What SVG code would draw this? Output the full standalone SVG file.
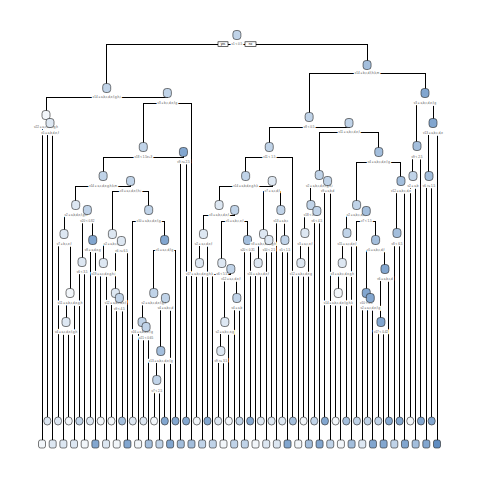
<svg xmlns="http://www.w3.org/2000/svg" width="480" height="480" viewBox="0 0 480 480">
<style>
.e{fill:none;stroke:#000;stroke-width:1;shape-rendering:crispEdges}
.n{stroke:#222;stroke-width:.6}
.c0{fill:#f2f6fa}.c1{fill:#dde7f2}.c2{fill:#c0d3e8}.c3{fill:#a3bedc}.c4{fill:#82a6cf}.c5{fill:#5f8cc0}
.lb{font-family:'Liberation Sans',Arial,sans-serif;font-size:3px;fill:#555;text-anchor:middle;stroke:#fff;stroke-width:2.6;paint-order:stroke;stroke-linejoin:round}
.yn{fill:#fff;stroke:#000;stroke-width:.6}
.ynt{font-family:'Liberation Sans',Arial,sans-serif;font-size:3px;fill:#000;text-anchor:middle}
</style>
<rect width="480" height="480" fill="#fff"/>
<g id="connectors" class="e">
<path d="M106.69 88V44H367.07V65"/>
<path d="M46 115V97H167.38V93"/>
<path d="M42 444V127H50.01V123"/>
<path d="M47.34 421V133H52.68V444"/>
<path d="M143.29 147V103H191.46V444"/>
<path d="M103.12 176V157H183.45V152"/>
<path d="M180.78 444V162H186.12V421"/>
<path d="M75.7 205V186H130.54V181"/>
<path d="M64.02 234V215H87.37V210"/>
<path d="M58.01 421V244H70.03V293"/>
<path d="M66.02 322V303H74.03V444"/>
<path d="M63.35 444V332H68.69V421"/>
<path d="M82.03 262V221H92.71V240"/>
<path d="M79.36 421V272H84.7V444"/>
<path d="M90.04 421V250H95.38V444"/>
<path d="M112.4 234V191H148.68V210"/>
<path d="M103.39 263V244H121.4V241"/>
<path d="M100.72 421V274H106.05V444"/>
<path d="M115.4 293V251H127.41V444"/>
<path d="M111.39 421V303H119.4V298"/>
<path d="M116.73 444V309H122.07V421"/>
<path d="M132.74 421V221H164.61V240"/>
<path d="M153.77 293V250H175.45V421"/>
<path d="M142.09 322V303H165.44V298"/>
<path d="M138.08 444V332H146.09V327"/>
<path d="M143.42 421V338H148.76V444"/>
<path d="M160.77 351V308H170.11V444"/>
<path d="M156.76 380V361H164.77V421"/>
<path d="M154.09 421V391H159.43V444"/>
<path d="M309.13 117V73H425V93"/>
<path d="M269.26 147V127H349V123"/>
<path d="M245.64 176V157H292.88V421"/>
<path d="M219.07 205V186H272.2V181"/>
<path d="M203.47 234V215H234.67V210"/>
<path d="M199.47 263V244H207.47V421"/>
<path d="M196.8 421V274H202.14V444"/>
<path d="M221.82 263V221H247.51V240"/>
<path d="M212.81 444V274H230.83V269"/>
<path d="M224.82 322V279H236.83V298"/>
<path d="M220.82 351V332H228.82V421"/>
<path d="M218.15 421V361H223.49V444"/>
<path d="M234.16 444V308H239.5V421"/>
<path d="M244.84 444V250H250.18V421"/>
<path d="M263.52 234V191H280.87V210"/>
<path d="M258.18 263V244H268.86V240"/>
<path d="M255.51 444V274H260.85V421"/>
<path d="M266.19 444V250H271.53V421"/>
<path d="M276.86 444V221H284.87V240"/>
<path d="M282.2 421V250H287.54V444"/>
<path d="M319.24 175V132H378.79V152"/>
<path d="M310.9 205V186H327.58V181"/>
<path d="M304.89 233V215H316.9V211"/>
<path d="M300.89 263V244H308.89V444"/>
<path d="M298.22 444V274H303.55V421"/>
<path d="M314.23 421V221H319.57V444"/>
<path d="M324.91 421V191H330.24V444"/>
<path d="M356.6 205V162H400.97V181"/>
<path d="M346.93 233V215H366.28V211"/>
<path d="M342.26 263V244H351.59V444"/>
<path d="M338.25 293V274H346.26V421"/>
<path d="M335.58 421V303H340.92V444"/>
<path d="M356.93 421V221H375.62V240"/>
<path d="M366.28 293V250H384.96V269"/>
<path d="M362.27 444V303H370.28V298"/>
<path d="M367.61 421V308H372.95V444"/>
<path d="M380.95 322V279H388.96V421"/>
<path d="M378.28 421V332H383.62V444"/>
<path d="M396.97 233V191H404.97V444"/>
<path d="M394.3 444V244H399.64V421"/>
<path d="M416.99 146V103H433V123"/>
<path d="M412.98 176V157H420.99V421"/>
<path d="M410.31 421V186H415.65V444"/>
<path d="M428.99 176V133H437V444"/>
<path d="M426.32 444V186H431.66V421"/>
</g>
<g id="yesno">
<rect class="yn" x="218" y="41.8" width="10" height="4.6"/><text class="ynt" x="223" y="45.1">yes</text>
<rect class="yn" x="245" y="41.8" width="11" height="4.6"/><text class="ynt" x="250.5" y="45.1">no</text>
</g>
<g id="nodes">
<g id="n_root"><rect class="n c2" x="232.88" y="30.5" width="8" height="9" rx="3"/><text class="lb" x="236.88" y="45.1">v1 &lt; 0.5</text></g>
<g id="n_A"><rect class="n c2" x="102.69" y="83.5" width="8" height="9" rx="3"/><text class="lb" x="106.69" y="98.1">v14 = a,b,c,d,e,f,g,h,i</text></g>
<g id="n_R"><rect class="n c3" x="363.07" y="60.5" width="8" height="9" rx="3"/><text class="lb" x="367.07" y="74.1">v14 = b,c,d,f,h,k,m</text></g>
<g id="n_B"><rect class="n c0" x="42" y="110.5" width="8" height="9" rx="3"/><text class="lb" x="46" y="128.1">v22 = a,c,d,e,f,g,h</text></g>
<g id="n_C"><rect class="n c1" x="46.01" y="118.5" width="8" height="9" rx="3"/><text class="lb" x="50.01" y="134.1">v5 = a,b,d,e,f</text></g>
<g id="n_D"><rect class="n c2" x="163.38" y="88.5" width="8" height="9" rx="3"/><text class="lb" x="167.38" y="104.1">v3 = b,c,d,e,f,g</text></g>
<g id="n_E"><rect class="n c2" x="139.29" y="142.5" width="8" height="9" rx="3"/><text class="lb" x="143.29" y="158.1">v18 &lt; 1.5e+3</text></g>
<g id="n_H"><rect class="n c4" x="179.45" y="147.5" width="8" height="9" rx="3"/><text class="lb" x="183.45" y="163.1">v9 &gt;= 2.5</text></g>
<g id="n_G"><rect class="n c2" x="99.12" y="171.5" width="8" height="9" rx="3"/><text class="lb" x="103.12" y="187.1">v14 = a,c,d,e,g,h,k,m</text></g>
<g id="n_I"><rect class="n c1" x="71.7" y="200.5" width="8" height="9" rx="3"/><text class="lb" x="75.7" y="216.1">v2 = a,b,d,e,f,g,h</text></g>
<g id="n_M"><rect class="n c1" x="60.02" y="229.5" width="8" height="9" rx="3"/><text class="lb" x="64.02" y="245.1">v7 = b,c,e,f</text></g>
<g id="n_M2"><rect class="n c0" x="66.03" y="288.5" width="8" height="9" rx="3"/><text class="lb" x="70.03" y="304.1">v11 = a,b,c,d,e,g,h</text></g>
<g id="n_M1"><rect class="n c1" x="62.02" y="317.5" width="8" height="9" rx="3"/><text class="lb" x="66.02" y="333.1">v4 = a,c,d,e,f,g,h</text></g>
<g id="n_N"><rect class="n c2" x="83.37" y="205.5" width="8" height="9" rx="3"/><text class="lb" x="87.37" y="222.1">v20 &lt; 0.82</text></g>
<g id="n_N1"><rect class="n c1" x="78.03" y="257.5" width="8" height="9" rx="3"/><text class="lb" x="82.03" y="273.1">v6 &lt; 3.5</text></g>
<g id="n_N2"><rect class="n c4" x="88.71" y="235.5" width="8" height="9" rx="3"/><text class="lb" x="92.71" y="251.1">v8 = a,d,e,g</text></g>
<g id="n_J"><rect class="n c2" x="126.54" y="176.5" width="8" height="9" rx="3"/><text class="lb" x="130.54" y="192.1">v3 = a,c,d,e,f,h,i</text></g>
<g id="n_K"><rect class="n c1" x="108.4" y="229.5" width="8" height="9" rx="3"/><text class="lb" x="112.4" y="245.1">v2 = a,b,c,e,f</text></g>
<g id="n_K1"><rect class="n c1" x="99.39" y="258.5" width="8" height="9" rx="3"/><text class="lb" x="103.39" y="275.1">v19 = a,c,d,e,g,h,i</text></g>
<g id="n_K2"><rect class="n c1" x="117.4" y="236.5" width="8" height="9" rx="3"/><text class="lb" x="121.4" y="252.1">v6 &gt;= 6.5</text></g>
<g id="n_K3"><rect class="n c1" x="111.4" y="288.5" width="8" height="9" rx="3"/><text class="lb" x="115.4" y="304.1">v12 = a,b,c,d,e,f</text></g>
<g id="n_K4"><rect class="n c2" x="115.4" y="293.5" width="8" height="9" rx="3"/><text class="lb" x="119.4" y="310.1">v9 &lt; 4.5</text></g>
<g id="n_L"><rect class="n c2" x="144.68" y="205.5" width="8" height="9" rx="3"/><text class="lb" x="148.68" y="222.1">v10 = a,b,c,d,e,f,g</text></g>
<g id="n_LA"><rect class="n c4" x="160.61" y="235.5" width="8" height="9" rx="3"/><text class="lb" x="164.61" y="251.1">v5 = a,c,d,f,g</text></g>
<g id="n_LB"><rect class="n c2" x="149.77" y="288.5" width="8" height="9" rx="3"/><text class="lb" x="153.77" y="304.1">v2 = a,b,c,d,e,f,g,h</text></g>
<g id="n_LC"><rect class="n c2" x="138.09" y="317.5" width="8" height="9" rx="3"/><text class="lb" x="142.09" y="333.1">v16 = a,b,d,e,f,g</text></g>
<g id="n_LE"><rect class="n c2" x="142.09" y="322.5" width="8" height="9" rx="3"/><text class="lb" x="146.09" y="339.1">v21 &lt; 0.65</text></g>
<g id="n_LD"><rect class="n c2" x="161.44" y="293.5" width="8" height="9" rx="3"/><text class="lb" x="165.44" y="309.1">v4 = a,b,c,d</text></g>
<g id="n_LF"><rect class="n c3" x="156.77" y="346.5" width="8" height="9" rx="3"/><text class="lb" x="160.77" y="362.1">v13 = a,b,c,d,e,f,g</text></g>
<g id="n_LG"><rect class="n c2" x="152.76" y="375.5" width="8" height="9" rx="3"/><text class="lb" x="156.76" y="392.1">v7 &lt; 2.5</text></g>
<g id="n_P"><rect class="n c2" x="305.13" y="112.5" width="8" height="9" rx="3"/><text class="lb" x="309.13" y="128.1">v8 &lt; 0.5</text></g>
<g id="n_Q"><rect class="n c2" x="265.26" y="142.5" width="8" height="9" rx="3"/><text class="lb" x="269.26" y="158.1">v11 &lt; 1.5</text></g>
<g id="n_Q17"><rect class="n c2" x="241.64" y="171.5" width="8" height="9" rx="3"/><text class="lb" x="245.64" y="187.1">v14 = a,b,d,e,g,h,k</text></g>
<g id="n_Q10"><rect class="n c1" x="215.07" y="200.5" width="8" height="9" rx="3"/><text class="lb" x="219.07" y="216.1">v3 = a,b,c,d,e,f</text></g>
<g id="n_Q2"><rect class="n c1" x="199.47" y="229.5" width="8" height="9" rx="3"/><text class="lb" x="203.47" y="245.1">v2 = a,c,d,e,f</text></g>
<g id="n_Q1"><rect class="n c1" x="195.47" y="258.5" width="8" height="9" rx="3"/><text class="lb" x="199.47" y="275.1">v17 = a,b,c,d,e,g,h,k</text></g>
<g id="n_Q9"><rect class="n c2" x="230.67" y="205.5" width="8" height="9" rx="3"/><text class="lb" x="234.67" y="222.1">v5 = a,b,c,e,f</text></g>
<g id="n_Q7"><rect class="n c1" x="217.82" y="258.5" width="8" height="9" rx="3"/><text class="lb" x="221.82" y="275.1">v6 &lt; 5.5</text></g>
<g id="n_Q6"><rect class="n c2" x="226.83" y="264.5" width="8" height="9" rx="3"/><text class="lb" x="230.83" y="280.1">v12 = a,c,d,e,f</text></g>
<g id="n_Q4"><rect class="n c1" x="220.82" y="317.5" width="8" height="9" rx="3"/><text class="lb" x="224.82" y="333.1">v2 = a,b,c,e,g</text></g>
<g id="n_Q3"><rect class="n c1" x="216.82" y="346.5" width="8" height="9" rx="3"/><text class="lb" x="220.82" y="362.1">v9 &gt;= 3.5</text></g>
<g id="n_Q5"><rect class="n c2" x="232.83" y="293.5" width="8" height="9" rx="3"/><text class="lb" x="236.83" y="309.1">v4 = a,b</text></g>
<g id="n_Q8"><rect class="n c3" x="243.51" y="235.5" width="8" height="9" rx="3"/><text class="lb" x="247.51" y="251.1">v20 &lt; 0.31</text></g>
<g id="n_Q16"><rect class="n c1" x="268.2" y="176.5" width="8" height="9" rx="3"/><text class="lb" x="272.2" y="192.1">v7 = a,c,d,f</text></g>
<g id="n_Q13"><rect class="n c1" x="259.52" y="229.5" width="8" height="9" rx="3"/><text class="lb" x="263.52" y="245.1">v3 = a,b,c,d,e,f,g,h</text></g>
<g id="n_Q11"><rect class="n c1" x="254.18" y="258.5" width="8" height="9" rx="3"/><text class="lb" x="258.18" y="275.1">v16 = a,b,c,d,e,f</text></g>
<g id="n_Q12"><rect class="n c1" x="264.86" y="235.5" width="8" height="9" rx="3"/><text class="lb" x="268.86" y="251.1">v10 &lt; 2.5</text></g>
<g id="n_Q15"><rect class="n c2" x="276.87" y="205.5" width="8" height="9" rx="3"/><text class="lb" x="280.87" y="222.1">v13 = a,b,c</text></g>
<g id="n_Q14"><rect class="n c2" x="280.87" y="235.5" width="8" height="9" rx="3"/><text class="lb" x="284.87" y="251.1">v5 &lt; 1.5</text></g>
<g id="n_S"><rect class="n c2" x="345" y="118.5" width="8" height="9" rx="3"/><text class="lb" x="349" y="133.1">v11 = a,b,c,d,e,f</text></g>
<g id="n_T"><rect class="n c2" x="315.24" y="170.5" width="8" height="9" rx="3"/><text class="lb" x="319.24" y="187.1">v2 = a,b,c,d,e,f,g,h,i</text></g>
<g id="n_T4"><rect class="n c2" x="306.9" y="200.5" width="8" height="9" rx="3"/><text class="lb" x="310.9" y="216.1">v18 &lt; 0.74</text></g>
<g id="n_T2"><rect class="n c1" x="300.89" y="228.5" width="8" height="9" rx="3"/><text class="lb" x="304.89" y="245.1">v3 = a,c,e,f</text></g>
<g id="n_T1"><rect class="n c1" x="296.89" y="258.5" width="8" height="9" rx="3"/><text class="lb" x="300.89" y="275.1">v12 = a,b,c,d,e,g</text></g>
<g id="n_T3"><rect class="n c2" x="312.9" y="206.5" width="8" height="9" rx="3"/><text class="lb" x="316.9" y="222.1">v6 &lt; 4.5</text></g>
<g id="n_T5"><rect class="n c2" x="323.58" y="176.5" width="8" height="9" rx="3"/><text class="lb" x="327.58" y="192.1">v9 = a,b,d</text></g>
<g id="n_U"><rect class="n c3" x="374.79" y="147.5" width="8" height="9" rx="3"/><text class="lb" x="378.79" y="163.1">v4 = a,b,c,d,e,f,g</text></g>
<g id="n_V"><rect class="n c2" x="352.6" y="200.5" width="8" height="9" rx="3"/><text class="lb" x="356.6" y="216.1">v2 = a,b,c,d,e,f</text></g>
<g id="n_V3"><rect class="n c2" x="342.93" y="228.5" width="8" height="9" rx="3"/><text class="lb" x="346.93" y="245.1">v15 = a,c,d,e,f</text></g>
<g id="n_V2"><rect class="n c1" x="338.26" y="258.5" width="8" height="9" rx="3"/><text class="lb" x="342.26" y="275.1">v3 = a,b,c,d,e,g,h</text></g>
<g id="n_V1"><rect class="n c0" x="334.25" y="288.5" width="8" height="9" rx="3"/><text class="lb" x="338.25" y="304.1">v14 = a,b,c,d,e,f,g,h,k</text></g>
<g id="n_V9"><rect class="n c3" x="362.28" y="206.5" width="8" height="9" rx="3"/><text class="lb" x="366.28" y="222.1">v7 &lt; 1.5</text></g>
<g id="n_V8"><rect class="n c3" x="371.62" y="235.5" width="8" height="9" rx="3"/><text class="lb" x="375.62" y="251.1">v5 = a,b,c,d,f</text></g>
<g id="n_V5"><rect class="n c4" x="362.28" y="288.5" width="8" height="9" rx="3"/><text class="lb" x="366.28" y="304.1">v10 &lt; 3.5</text></g>
<g id="n_V4"><rect class="n c4" x="366.28" y="293.5" width="8" height="9" rx="3"/><text class="lb" x="370.28" y="309.1">v2 = a,c,d,e,f,g</text></g>
<g id="n_V7"><rect class="n c4" x="380.96" y="264.5" width="8" height="9" rx="3"/><text class="lb" x="384.96" y="280.1">v6 = a,b,c,d</text></g>
<g id="n_V6"><rect class="n c4" x="376.95" y="317.5" width="8" height="9" rx="3"/><text class="lb" x="380.95" y="333.1">v17 &lt; 0.42</text></g>
<g id="n_W"><rect class="n c3" x="396.97" y="176.5" width="8" height="9" rx="3"/><text class="lb" x="400.97" y="192.1">v12 = a,b,c,d,e</text></g>
<g id="n_W1"><rect class="n c3" x="392.97" y="228.5" width="8" height="9" rx="3"/><text class="lb" x="396.97" y="245.1">v8 &lt; 6.5</text></g>
<g id="n_X"><rect class="n c4" x="421" y="88.5" width="8" height="9" rx="3"/><text class="lb" x="425" y="104.1">v3 = a,b,c,d,e,f,g</text></g>
<g id="n_X2"><rect class="n c3" x="412.99" y="141.5" width="8" height="9" rx="3"/><text class="lb" x="416.99" y="158.1">v9 &lt; 2.5</text></g>
<g id="n_X1"><rect class="n c2" x="408.98" y="171.5" width="8" height="9" rx="3"/><text class="lb" x="412.98" y="187.1">v2 = a,b</text></g>
<g id="n_Y"><rect class="n c4" x="429" y="118.5" width="8" height="9" rx="3"/><text class="lb" x="433" y="134.1">v13 = a,b,c,d,e</text></g>
<g id="n_X3"><rect class="n c3" x="424.99" y="171.5" width="8" height="9" rx="3"/><text class="lb" x="428.99" y="187.1">v6 &gt;= 1.5</text></g>
</g>
<g id="leaves">
<g id="leaf0"><rect class="n c0" x="38.5" y="440" width="7" height="8" rx="2"/></g>
<g id="leaf1"><rect class="n c1" x="43.84" y="417" width="7" height="8" rx="3.5"/></g>
<g id="leaf2"><rect class="n c1" x="49.18" y="440" width="7" height="8" rx="2"/></g>
<g id="leaf3"><rect class="n c1" x="54.51" y="417" width="7" height="8" rx="3.5"/></g>
<g id="leaf4"><rect class="n c1" x="59.85" y="440" width="7" height="8" rx="2"/></g>
<g id="leaf5"><rect class="n c0" x="65.19" y="417" width="7" height="8" rx="3.5"/></g>
<g id="leaf6"><rect class="n c1" x="70.53" y="440" width="7" height="8" rx="2"/></g>
<g id="leaf7"><rect class="n c2" x="75.86" y="417" width="7" height="8" rx="3.5"/></g>
<g id="leaf8"><rect class="n c0" x="81.2" y="440" width="7" height="8" rx="2"/></g>
<g id="leaf9"><rect class="n c1" x="86.54" y="417" width="7" height="8" rx="3.5"/></g>
<g id="leaf10"><rect class="n c4" x="91.88" y="440" width="7" height="8" rx="2"/></g>
<g id="leaf11"><rect class="n c0" x="97.22" y="417" width="7" height="8" rx="3.5"/></g>
<g id="leaf12"><rect class="n c1" x="102.55" y="440" width="7" height="8" rx="2"/></g>
<g id="leaf13"><rect class="n c0" x="107.89" y="417" width="7" height="8" rx="3.5"/></g>
<g id="leaf14"><rect class="n c0" x="113.23" y="440" width="7" height="8" rx="2"/></g>
<g id="leaf15"><rect class="n c3" x="118.57" y="417" width="7" height="8" rx="3.5"/></g>
<g id="leaf16"><rect class="n c4" x="123.91" y="440" width="7" height="8" rx="2"/></g>
<g id="leaf17"><rect class="n c1" x="129.24" y="417" width="7" height="8" rx="3.5"/></g>
<g id="leaf18"><rect class="n c0" x="134.58" y="440" width="7" height="8" rx="2"/></g>
<g id="leaf19"><rect class="n c1" x="139.92" y="417" width="7" height="8" rx="3.5"/></g>
<g id="leaf20"><rect class="n c3" x="145.26" y="440" width="7" height="8" rx="2"/></g>
<g id="leaf21"><rect class="n c0" x="150.59" y="417" width="7" height="8" rx="3.5"/></g>
<g id="leaf22"><rect class="n c2" x="155.93" y="440" width="7" height="8" rx="2"/></g>
<g id="leaf23"><rect class="n c4" x="161.27" y="417" width="7" height="8" rx="3.5"/></g>
<g id="leaf24"><rect class="n c4" x="166.61" y="440" width="7" height="8" rx="2"/></g>
<g id="leaf25"><rect class="n c4" x="171.95" y="417" width="7" height="8" rx="3.5"/></g>
<g id="leaf26"><rect class="n c3" x="177.28" y="440" width="7" height="8" rx="2"/></g>
<g id="leaf27"><rect class="n c4" x="182.62" y="417" width="7" height="8" rx="3.5"/></g>
<g id="leaf28"><rect class="n c3" x="187.96" y="440" width="7" height="8" rx="2"/></g>
<g id="leaf29"><rect class="n c0" x="193.3" y="417" width="7" height="8" rx="3.5"/></g>
<g id="leaf30"><rect class="n c2" x="198.64" y="440" width="7" height="8" rx="2"/></g>
<g id="leaf31"><rect class="n c4" x="203.97" y="417" width="7" height="8" rx="3.5"/></g>
<g id="leaf32"><rect class="n c2" x="209.31" y="440" width="7" height="8" rx="2"/></g>
<g id="leaf33"><rect class="n c1" x="214.65" y="417" width="7" height="8" rx="3.5"/></g>
<g id="leaf34"><rect class="n c0" x="219.99" y="440" width="7" height="8" rx="2"/></g>
<g id="leaf35"><rect class="n c0" x="225.32" y="417" width="7" height="8" rx="3.5"/></g>
<g id="leaf36"><rect class="n c2" x="230.66" y="440" width="7" height="8" rx="2"/></g>
<g id="leaf37"><rect class="n c2" x="236" y="417" width="7" height="8" rx="3.5"/></g>
<g id="leaf38"><rect class="n c2" x="241.34" y="440" width="7" height="8" rx="2"/></g>
<g id="leaf39"><rect class="n c4" x="246.68" y="417" width="7" height="8" rx="3.5"/></g>
<g id="leaf40"><rect class="n c0" x="252.01" y="440" width="7" height="8" rx="2"/></g>
<g id="leaf41"><rect class="n c1" x="257.35" y="417" width="7" height="8" rx="3.5"/></g>
<g id="leaf42"><rect class="n c1" x="262.69" y="440" width="7" height="8" rx="2"/></g>
<g id="leaf43"><rect class="n c1" x="268.03" y="417" width="7" height="8" rx="3.5"/></g>
<g id="leaf44"><rect class="n c1" x="273.36" y="440" width="7" height="8" rx="2"/></g>
<g id="leaf45"><rect class="n c1" x="278.7" y="417" width="7" height="8" rx="3.5"/></g>
<g id="leaf46"><rect class="n c4" x="284.04" y="440" width="7" height="8" rx="2"/></g>
<g id="leaf47"><rect class="n c3" x="289.38" y="417" width="7" height="8" rx="3.5"/></g>
<g id="leaf48"><rect class="n c0" x="294.72" y="440" width="7" height="8" rx="2"/></g>
<g id="leaf49"><rect class="n c0" x="300.05" y="417" width="7" height="8" rx="3.5"/></g>
<g id="leaf50"><rect class="n c3" x="305.39" y="440" width="7" height="8" rx="2"/></g>
<g id="leaf51"><rect class="n c2" x="310.73" y="417" width="7" height="8" rx="3.5"/></g>
<g id="leaf52"><rect class="n c4" x="316.07" y="440" width="7" height="8" rx="2"/></g>
<g id="leaf53"><rect class="n c4" x="321.41" y="417" width="7" height="8" rx="3.5"/></g>
<g id="leaf54"><rect class="n c2" x="326.74" y="440" width="7" height="8" rx="2"/></g>
<g id="leaf55"><rect class="n c0" x="332.08" y="417" width="7" height="8" rx="3.5"/></g>
<g id="leaf56"><rect class="n c0" x="337.42" y="440" width="7" height="8" rx="2"/></g>
<g id="leaf57"><rect class="n c3" x="342.76" y="417" width="7" height="8" rx="3.5"/></g>
<g id="leaf58"><rect class="n c3" x="348.09" y="440" width="7" height="8" rx="2"/></g>
<g id="leaf59"><rect class="n c2" x="353.43" y="417" width="7" height="8" rx="3.5"/></g>
<g id="leaf60"><rect class="n c1" x="358.77" y="440" width="7" height="8" rx="2"/></g>
<g id="leaf61"><rect class="n c2" x="364.11" y="417" width="7" height="8" rx="3.5"/></g>
<g id="leaf62"><rect class="n c4" x="369.45" y="440" width="7" height="8" rx="2"/></g>
<g id="leaf63"><rect class="n c2" x="374.78" y="417" width="7" height="8" rx="3.5"/></g>
<g id="leaf64"><rect class="n c4" x="380.12" y="440" width="7" height="8" rx="2"/></g>
<g id="leaf65"><rect class="n c4" x="385.46" y="417" width="7" height="8" rx="3.5"/></g>
<g id="leaf66"><rect class="n c2" x="390.8" y="440" width="7" height="8" rx="2"/></g>
<g id="leaf67"><rect class="n c4" x="396.14" y="417" width="7" height="8" rx="3.5"/></g>
<g id="leaf68"><rect class="n c4" x="401.47" y="440" width="7" height="8" rx="2"/></g>
<g id="leaf69"><rect class="n c0" x="406.81" y="417" width="7" height="8" rx="3.5"/></g>
<g id="leaf70"><rect class="n c3" x="412.15" y="440" width="7" height="8" rx="2"/></g>
<g id="leaf71"><rect class="n c4" x="417.49" y="417" width="7" height="8" rx="3.5"/></g>
<g id="leaf72"><rect class="n c4" x="422.82" y="440" width="7" height="8" rx="2"/></g>
<g id="leaf73"><rect class="n c4" x="428.16" y="417" width="7" height="8" rx="3.5"/></g>
<g id="leaf74"><rect class="n c5" x="433.5" y="440" width="7" height="8" rx="2"/></g>
</g>
</svg>
